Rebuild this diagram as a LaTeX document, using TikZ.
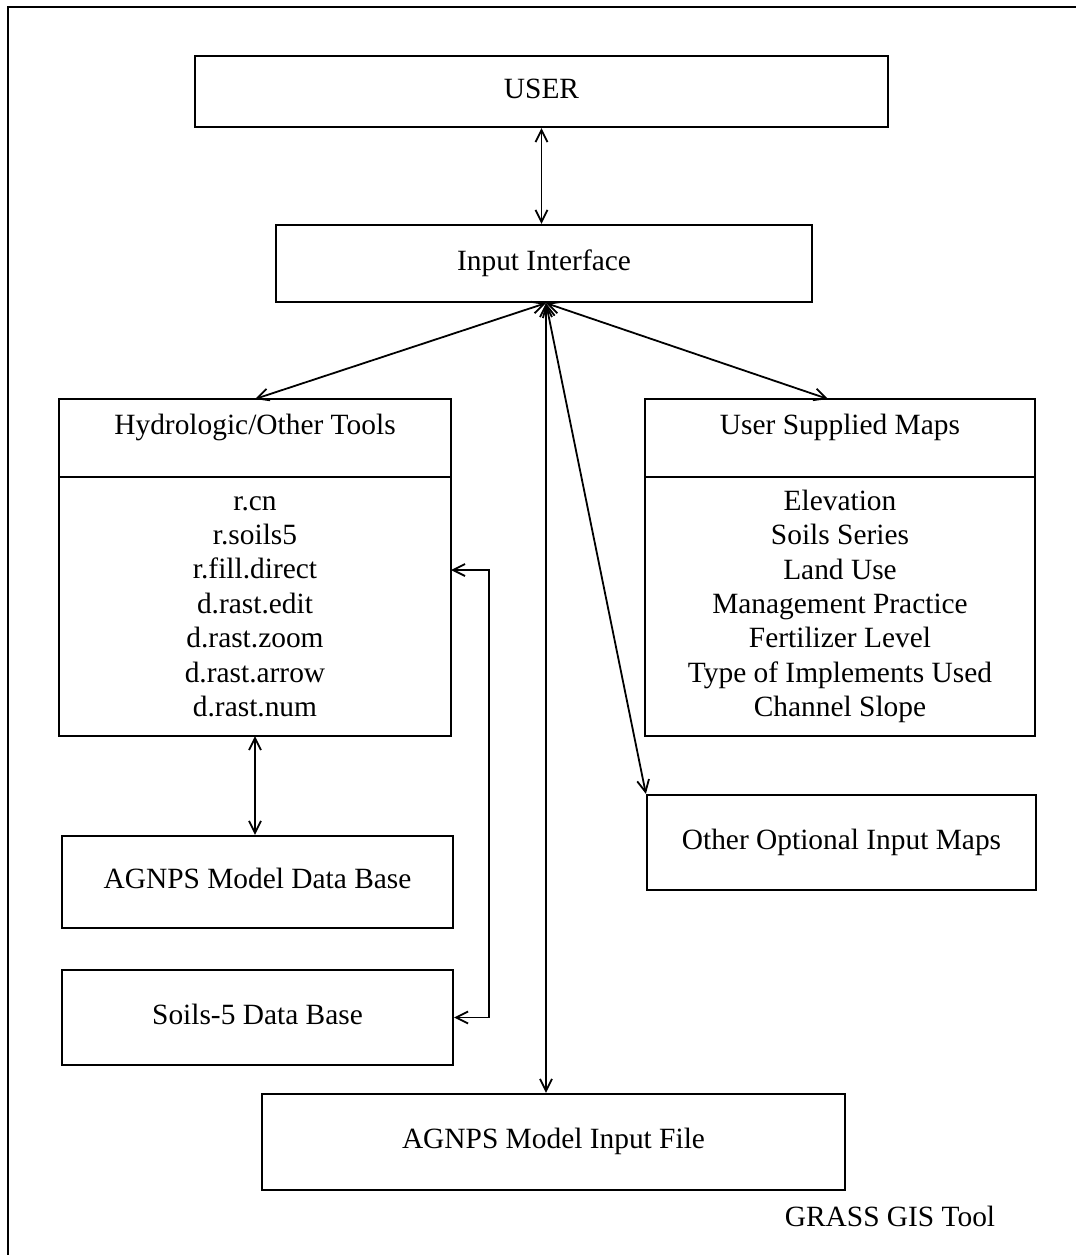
\documentclass[tikz,border=0pt]{standalone}
\usepackage{fontspec}
\setmainfont{Liberation Serif}
\usepackage{tikz}
\usetikzlibrary{arrows.meta, positioning, calc}

\begin{document}
\begin{tikzpicture}[x=0.5pt, y=-0.5pt,
	font=\fontsize{14.7}{17.2}\selectfont,
	box/.style={draw, line width=1.1pt, inner sep=0pt, text height=10pt, text depth=3.2pt},
	head/.style={box, text depth=14pt, outer sep=0pt},
	lst/.style={draw, line width=1.1pt, inner sep=0pt, outer sep=0pt, align=center},
	dbl/.style={{Straight Barb[length=6pt, width=6pt]}-{Straight Barb[length=6pt, width=6pt]}, line width=0.9pt}]

	\useasboundingbox (0,0) rectangle (1076,1255);

	% frame (top and left side only)
	\coordinate (fa) at (8,1255);
	\coordinate (fb) at (8,7);
	\coordinate (fc) at (1076,7);
	\draw[line width=1.3pt] (fa) -- (fb) -- (fc);

	\node[box, minimum width=346.5pt, minimum height=35.5pt] (user) at (541.5,91.5) {USER};
	\node[box, minimum width=268pt, minimum height=38.5pt] (iface) at (544,263.5) {Input Interface};

	\node[head, minimum width=196pt, minimum height=39pt] (hydro) at (255,438) {Hydrologic/Other Tools};
	\node[lst, minimum width=196pt, minimum height=129.5pt, anchor=north] (hydrolist) at (hydro.south)
		{r.cn\\ r.soils5\\ r.fill.direct\\ d.rast.edit\\ d.rast.zoom\\ d.rast.arrow\\ d.rast.num};

	\node[head, minimum width=195pt, minimum height=39pt] (maps) at (840,438) {User Supplied Maps};
	\node[lst, minimum width=195pt, minimum height=129.5pt, anchor=north] (mapslist) at (maps.south)
		{Elevation\\ Soils Series\\ Land Use\\ Management Practice\\ Fertilizer Level\\ Type of Implements Used\\ Channel Slope};

	\node[box, minimum width=194.5pt, minimum height=47.5pt] (other) at (841.5,842.5) {Other Optional Input Maps};
	\node[box, minimum width=195.5pt, minimum height=46pt] (agdb) at (257.5,882) {AGNPS Model Data Base};
	\node[box, minimum width=195.5pt, minimum height=47.5pt] (soils) at (257.5,1017.5) {Soils-5 Data Base};
	\node[box, minimum width=291.5pt, minimum height=48pt] (infile) at (553.5,1142) {AGNPS Model Input File};
	\node (grass) at (890,1216) {GRASS GIS Tool};

	\coordinate (hub) at ([xshift=1pt]iface.south);
	\coordinate (bk) at (489,570);

	\draw[dbl] (user.south) -- (user.south |- iface.north);
	\draw[dbl] (hub) -- (hydro.north);
	\draw[dbl] (hub) -- ([xshift=-6pt]maps.north);
	\draw[dbl] (hub) -- (other.north west);
	\draw[dbl] (hub) -- (hub |- infile.north);
	\draw[dbl] (hydrolist.south) -- (hydrolist.south |- agdb.north);
	\draw[dbl] (hydrolist.east |- bk) -- (bk) -- (bk |- soils.east) -- (soils.east);
\end{tikzpicture}
\end{document}
